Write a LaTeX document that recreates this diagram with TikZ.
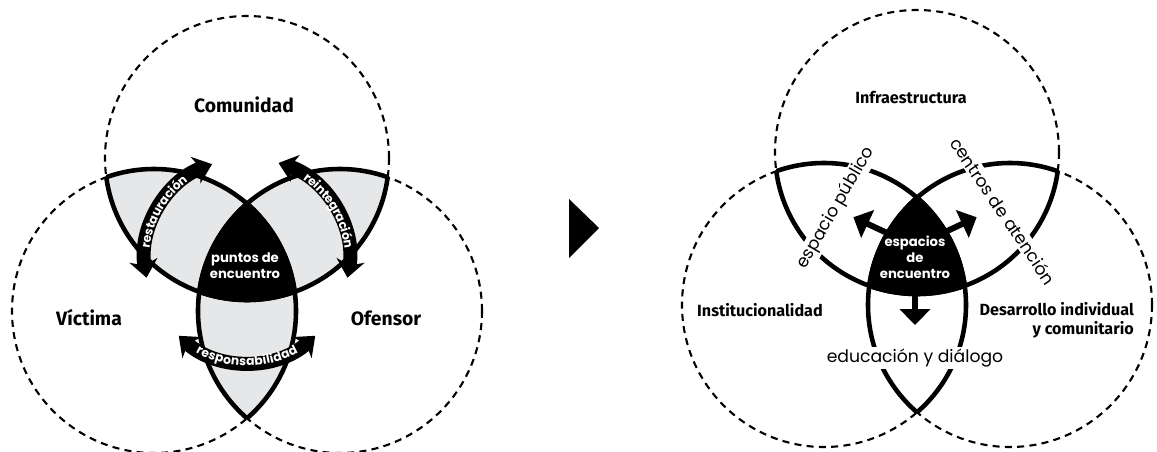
\documentclass[tikz,border=0pt]{standalone}
\usepackage{fontspec}
\setmainfont{Fira Sans}
\newfontfamily\gothic{Poppins}
\usetikzlibrary{arrows.meta, decorations.text}
\definecolor{lobegray}{RGB}{230, 231, 232}
\definecolor{inkblack}{RGB}{0, 0, 0}

\begin{document}
\begin{tikzpicture}[
    x=0.02cm, y=0.02cm,
    ring/.style={
        draw=inkblack,
        dash pattern=on 4pt off 3pt,
        line width=1.2pt
    },
    rim/.style={
        draw=inkblack,
        line width=2.6pt
    },
    bigname/.style={
        font=\bfseries\fontsize{11}{13}\selectfont
    },
    smallname/.style={
        font=\bfseries\fontsize{9.2}{11}\selectfont,
        align=right
    },
    core/.style={
        font=\gothic\bfseries\fontsize{7.5}{9}\selectfont,
        text=white,
        align=center
    },
    route/.style={
        font=\gothic\fontsize{9.8}{11}\selectfont,
        fill=white,
        inner sep=1pt
    },
    band/.style={
        draw=inkblack,
        line width=8pt,
        arrows={Stealth[length=10pt,width=16pt,inset=3pt]-Stealth[length=10pt,width=16pt,inset=3pt]}
    },
    bandtext/.style={
        decorate,
        decoration={text along path, text align=center, raise=-2.2pt,
            text={|\gothic\bfseries\fontsize{7}{8}\selectfont\color{white}|#1}}
    },
    spoke/.style={
        draw=inkblack,
        line width=3.4pt,
        -{Triangle[length=9pt,width=17pt]}
    }
]

% Canvas
\useasboundingbox (0,0) rectangle (1157,451);

% ---------------- Left diagram ----------------
\coordinate (comC) at (247,293);
\coordinate (vicC) at (154,140);
\coordinate (ofeC) at (340,140);
\coordinate (hubL) at (247,191);

% Grey lobes
\foreach \a/\b in {comC/vicC, comC/ofeC, vicC/ofeC} {
    \begin{scope}
        \clip (\a) circle (142);
        \fill[lobegray] (\b) circle (142);
    \end{scope}
}

% Meeting point
\begin{scope}
    \clip (comC) circle (142);
    \clip (vicC) circle (142);
    \fill[inkblack] (ofeC) circle (142);
\end{scope}

% Circles
\foreach \c in {comC, vicC, ofeC}
    \draw[ring] (\c) circle (142);
\foreach \a/\b in {comC/vicC, comC/ofeC, vicC/comC, vicC/ofeC, ofeC/comC, ofeC/vicC} {
    \begin{scope}
        \clip (\b) circle (142);
        \draw[rim] (\a) circle (142);
    \end{scope}
}

% Curved arrows
\coordinate (restA) at ([shift={(190:102)}]hubL);
\coordinate (reinA) at ([shift={(72:102)}]hubL);
\coordinate (respA) at ([shift={(228:102)}]hubL);
\draw[band] (restA) arc[start angle=190, end angle=110, radius=102];
\path[bandtext=restauración] (restA) arc[start angle=190, end angle=110, radius=102];
\draw[band] (reinA) arc[start angle=72, end angle=-10, radius=102];
\path[bandtext=reintegración] (reinA) arc[start angle=72, end angle=-10, radius=102];
\draw[band] (respA) arc[start angle=228, end angle=312, radius=102];
\path[bandtext=responsabilidad] (respA) arc[start angle=228, end angle=312, radius=102];

% Labels
\node[bigname] (comunidad) at (244,346) {Comunidad};
\node[bigname] (victima) at (89,133) {Víctima};
\node[bigname] (ofensor) at (386,133) {Ofensor};
\node[core] (puntos) at (245,185) {puntos de\\encuentro};

% Transition marker
\fill[inkblack] (569,252) -- (569,193) -- (599,223) -- cycle;

% ---------------- Right diagram ----------------
\coordinate (infC) at (917,299);
\coordinate (insC) at (824,146);
\coordinate (desC) at (1010,146);
\coordinate (hubR) at (915,205);

% Meeting space
\begin{scope}
    \clip (infC) circle (142);
    \clip (insC) circle (142);
    \fill[inkblack] (desC) circle (142);
\end{scope}

% Circles
\foreach \c in {infC, insC, desC}
    \draw[ring] (\c) circle (142);
\foreach \a/\b in {infC/insC, infC/desC, insC/infC, insC/desC, desC/infC, desC/insC} {
    \begin{scope}
        \clip (\b) circle (142);
        \draw[rim] (\a) circle (142);
    \end{scope}
}

% Spokes
\coordinate (spokeA) at ([shift={(155:68)}]hubR);
\coordinate (spokeB) at ([shift={(25:68)}]hubR);
\coordinate (spokeC) at ([shift={(270:79)}]hubR);
\draw[spoke] (hubR) -- (spokeA);
\draw[spoke] (hubR) -- (spokeB);
\draw[spoke] (hubR) -- (spokeC);

% Labels
\node[smallname] (infra) at (911,353) {Infraestructura};
\node[smallname] (inst) at (760,141) {Institucionalidad};
\node[smallname, anchor=east] (desa) at (1140,131) {Desarrollo individual\\y comunitario};
\node[core] (espacios) at (915,194) {espacios\\de\\encuentro};
\node[route, rotate=60] (publico) at (836,243) {espacio público};
\node[route, rotate=-56] (centros) at (1003,240) {centros de atención};
\node[route] (educa) at (915,93) {educación y diálogo};

\end{tikzpicture}
\end{document}
